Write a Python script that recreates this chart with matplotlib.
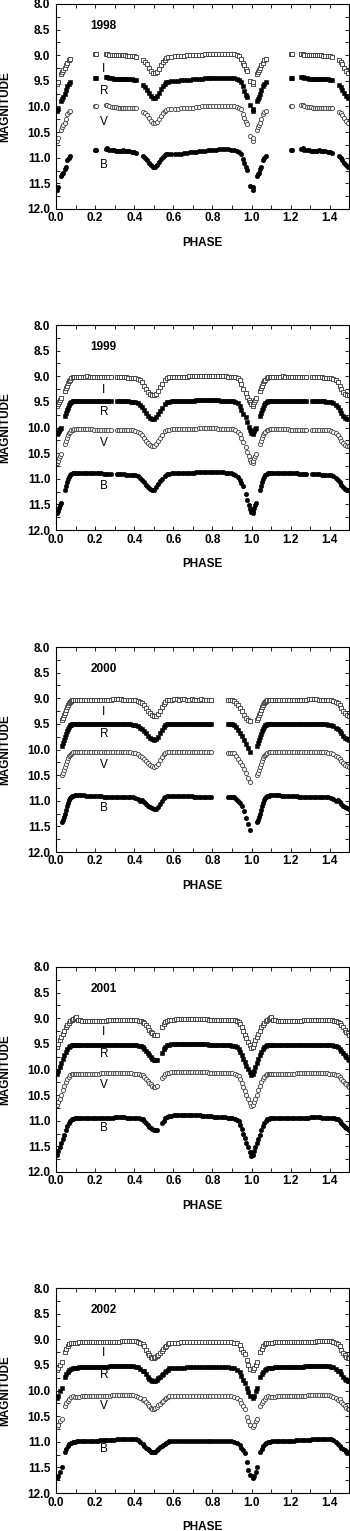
import matplotlib
matplotlib.use('Agg')
import matplotlib.pyplot as plt
import matplotlib.ticker as ticker
import numpy as np

# ---- 1998 ----
ph_1998 = [0.005, 0.01, 0.027, 0.032, 0.037, 0.045, 0.05, 0.058, 0.065, 0.072,
           0.200, 0.207, 0.255, 0.262, 0.27, 0.285, 0.295, 0.305, 0.315, 0.325, 0.335, 0.345, 0.355, 0.365, 0.375, 0.39, 0.40, 0.41,
           0.445, 0.455, 0.465, 0.475, 0.485, 0.495, 0.505, 0.515, 0.525, 0.535, 0.545, 0.555, 0.565, 0.575, 0.59,
           0.61, 0.625, 0.64, 0.655, 0.67, 0.685, 0.70, 0.715, 0.73, 0.745, 0.76, 0.775, 0.79, 0.805, 0.82, 0.835, 0.85, 0.865, 0.88, 0.895, 0.91, 0.925,
           0.935, 0.945, 0.955, 0.962, 0.97, 0.976, 0.993]
i_1998 = [9.57, 9.53, 9.36, 9.32, 9.28, 9.25, 9.20, 9.15, 9.10, 9.07,
          8.98, 8.98, 8.98, 8.98, 8.99, 8.99, 9.00, 9.00, 9.00, 9.00, 9.00, 9.00, 9.00, 9.01, 9.01, 9.01, 9.02, 9.03,
          9.10, 9.13, 9.18, 9.24, 9.30, 9.34, 9.35, 9.32, 9.26, 9.19, 9.13, 9.09, 9.06, 9.04, 9.03,
          9.02, 9.02, 9.01, 9.01, 9.00, 9.00, 9.00, 8.99, 8.99, 8.99, 8.98, 8.98, 8.98, 8.98, 8.98, 8.98, 8.98, 8.98, 8.98, 8.98, 8.98, 8.99,
          9.02, 9.07, 9.15, 9.20, 9.27, 9.31, 9.50]
r_1998 = [10.08, 10.05, 9.90, 9.86, 9.82, 9.75, 9.68, 9.60, 9.56, 9.52,
          9.45, 9.45, 9.43, 9.42, 9.44, 9.45, 9.46, 9.46, 9.46, 9.46, 9.46, 9.46, 9.47, 9.47, 9.47, 9.47, 9.48, 9.48,
          9.58, 9.62, 9.67, 9.73, 9.79, 9.83, 9.83, 9.80, 9.73, 9.66, 9.60, 9.56, 9.53, 9.52, 9.51,
          9.50, 9.50, 9.49, 9.49, 9.48, 9.48, 9.47, 9.47, 9.46, 9.46, 9.45, 9.45, 9.45, 9.44, 9.44, 9.44, 9.44, 9.44, 9.45, 9.45, 9.45, 9.46,
          9.48, 9.52, 9.60, 9.70, 9.78, 9.82, 9.98]
v_1998 = [10.68, 10.62, 10.45, 10.40, 10.37, 10.33, 10.25, 10.15, 10.11, 10.08,
          10.00, 10.00, 9.98, 9.98, 10.00, 10.01, 10.01, 10.01, 10.02, 10.02, 10.02, 10.02, 10.02, 10.02, 10.03, 10.03, 10.03, 10.03,
          10.10, 10.13, 10.17, 10.22, 10.28, 10.32, 10.33, 10.30, 10.24, 10.18, 10.13, 10.09, 10.07, 10.05, 10.04,
          10.04, 10.04, 10.03, 10.03, 10.03, 10.02, 10.02, 10.01, 10.01, 10.00, 10.00, 10.00, 10.00, 9.99, 9.99, 9.99, 9.99, 9.99, 10.00, 10.00, 10.00, 10.01,
          10.02, 10.05, 10.15, 10.22, 10.30, 10.35, 10.58]
b_1998 = [11.62, 11.58, 11.35, 11.32, 11.30, 11.22, 11.18, 11.05, 11.00, 10.96,
          10.85, 10.85, 10.83, 10.81, 10.84, 10.85, 10.85, 10.86, 10.86, 10.86, 10.86, 10.85, 10.86, 10.86, 10.87, 10.88, 10.89, 10.90,
          10.97, 11.00, 11.05, 11.10, 11.15, 11.18, 11.18, 11.15, 11.09, 11.03, 10.98, 10.95, 10.93, 10.93, 10.93,
          10.93, 10.93, 10.92, 10.91, 10.90, 10.89, 10.88, 10.88, 10.87, 10.87, 10.86, 10.85, 10.85, 10.84, 10.84, 10.83, 10.82, 10.82, 10.83, 10.84, 10.84, 10.86,
          10.88, 10.93, 11.02, 11.10, 11.18, 11.24, 11.55]

# ---- 1999 ----
ph_1999 = [0.005, 0.01, 0.015, 0.02, 0.025,
           0.045, 0.05, 0.055, 0.06, 0.065, 0.07, 0.077, 0.085, 0.092,
           0.10, 0.112, 0.124, 0.136, 0.148, 0.16, 0.172, 0.184, 0.196, 0.208, 0.22, 0.232, 0.244, 0.256, 0.268, 0.28,
           0.31, 0.322, 0.334, 0.346, 0.358, 0.37, 0.382, 0.394, 0.406, 0.418, 0.43,
           0.44, 0.45, 0.46, 0.47, 0.48, 0.49, 0.50, 0.51, 0.52, 0.53, 0.54,
           0.56, 0.57,
           0.58, 0.593, 0.605, 0.618, 0.63, 0.643, 0.655, 0.668, 0.68, 0.693, 0.705, 0.718, 0.73, 0.743, 0.755, 0.768, 0.78, 0.793, 0.805, 0.818, 0.83, 0.843, 0.855, 0.868, 0.88, 0.893, 0.905, 0.918, 0.93,
           0.94, 0.948, 0.955, 0.97, 0.978, 0.985, 0.99, 0.995]
i_1999 = [9.58, 9.55, 9.50, 9.46, 9.43,
          9.28, 9.23, 9.18, 9.13, 9.09, 9.07, 9.04, 9.02, 9.01,
          9.01, 9.01, 9.01, 9.01, 9.01, 9.00, 9.01, 9.01, 9.01, 9.01, 9.01, 9.01, 9.01, 9.01, 9.02, 9.02,
          9.02, 9.02, 9.02, 9.02, 9.02, 9.03, 9.03, 9.03, 9.04, 9.05, 9.08,
          9.12, 9.18, 9.25, 9.31, 9.35, 9.37, 9.37, 9.34, 9.28, 9.21, 9.15,
          9.07, 9.04,
          9.02, 9.02, 9.01, 9.01, 9.01, 9.01, 9.01, 9.01, 9.00, 9.00, 9.00, 9.00, 9.00, 9.00, 9.00, 9.00, 9.00, 9.00, 9.00, 9.00, 9.00, 9.00, 9.00, 9.00, 9.01, 9.01, 9.01, 9.02, 9.03,
          9.07, 9.15, 9.24, 9.33, 9.40, 9.46, 9.50, 9.54]
r_1999 = [10.12, 10.10, 10.06, 10.03, 10.00,
          9.78, 9.72, 9.66, 9.61, 9.57, 9.53, 9.50, 9.49, 9.48,
          9.48, 9.48, 9.48, 9.48, 9.48, 9.48, 9.48, 9.48, 9.48, 9.48, 9.48, 9.48, 9.49, 9.49, 9.49, 9.49,
          9.49, 9.49, 9.49, 9.49, 9.49, 9.49, 9.50, 9.50, 9.51, 9.53, 9.56,
          9.60, 9.66, 9.72, 9.78, 9.82, 9.84, 9.84, 9.80, 9.74, 9.68, 9.62,
          9.54, 9.51,
          9.50, 9.49, 9.49, 9.49, 9.49, 9.48, 9.48, 9.48, 9.48, 9.48, 9.48, 9.47, 9.47, 9.47, 9.47, 9.47, 9.47, 9.47, 9.47, 9.47, 9.47, 9.48, 9.48, 9.48, 9.48, 9.48, 9.49, 9.50, 9.52,
          9.58, 9.66, 9.74, 9.80, 9.90, 9.98, 10.05, 10.10]
v_1999 = [10.70, 10.65, 10.60, 10.56, 10.52,
          10.32, 10.26, 10.20, 10.15, 10.11, 10.08, 10.05, 10.04, 10.03,
          10.03, 10.03, 10.03, 10.03, 10.03, 10.03, 10.03, 10.03, 10.04, 10.04, 10.04, 10.04, 10.04, 10.04, 10.04, 10.04,
          10.04, 10.04, 10.04, 10.04, 10.04, 10.05, 10.05, 10.05, 10.06, 10.08, 10.11,
          10.15, 10.20, 10.26, 10.31, 10.35, 10.37, 10.36, 10.32, 10.26, 10.20, 10.14,
          10.07, 10.05,
          10.04, 10.03, 10.03, 10.03, 10.03, 10.03, 10.02, 10.02, 10.02, 10.02, 10.02, 10.02, 10.01, 10.01, 10.00, 10.01, 10.01, 10.01, 10.01, 10.01, 10.02, 10.02, 10.02, 10.02, 10.02, 10.02, 10.03, 10.05, 10.08,
          10.13, 10.20, 10.28, 10.38, 10.48, 10.56, 10.63, 10.68]
b_1999 = [11.67, 11.62, 11.57, 11.52, 11.47,
          11.22, 11.14, 11.07, 11.01, 10.97, 10.93, 10.90, 10.89, 10.88,
          10.88, 10.88, 10.88, 10.88, 10.89, 10.89, 10.88, 10.89, 10.89, 10.89, 10.89, 10.89, 10.90, 10.90, 10.90, 10.90,
          10.91, 10.91, 10.91, 10.91, 10.92, 10.92, 10.92, 10.92, 10.93, 10.95, 10.98,
          11.02, 11.07, 11.12, 11.17, 11.20, 11.22, 11.21, 11.17, 11.11, 11.05, 11.00,
          10.94, 10.91,
          10.90, 10.89, 10.89, 10.89, 10.89, 10.89, 10.88, 10.88, 10.88, 10.88, 10.88, 10.87, 10.87, 10.87, 10.86, 10.86, 10.86, 10.87, 10.87, 10.87, 10.87, 10.87, 10.87, 10.88, 10.88, 10.88, 10.90, 10.93, 10.97,
          11.03, 11.09, 11.15, 11.30, 11.42, 11.52, 11.59, 11.64]

# ---- 2000 ----
ph_2000 = [0.03, 0.035, 0.04, 0.045, 0.05, 0.055, 0.06, 0.065, 0.07, 0.075, 0.08, 0.087, 0.095,
           0.105, 0.118, 0.13, 0.143, 0.155, 0.168, 0.18, 0.193, 0.205, 0.218, 0.23, 0.243, 0.255, 0.268, 0.28, 0.293, 0.305, 0.318, 0.33, 0.343, 0.355, 0.368, 0.38, 0.393, 0.405, 0.418, 0.43,
           0.44, 0.45, 0.46, 0.47, 0.48, 0.49, 0.50, 0.51, 0.52, 0.53, 0.54, 0.55, 0.56, 0.57,
           0.58, 0.593, 0.605, 0.618, 0.63, 0.643, 0.655, 0.668, 0.68, 0.693, 0.705, 0.718, 0.73, 0.743, 0.755, 0.768, 0.78, 0.793,
           0.88, 0.89, 0.90, 0.91, 0.92, 0.93, 0.94, 0.95, 0.96, 0.97, 0.98, 0.99]
i_2000 = [9.42, 9.38, 9.33, 9.28, 9.23, 9.18, 9.14, 9.10, 9.07, 9.05, 9.04, 9.03, 9.03,
          9.03, 9.03, 9.03, 9.03, 9.03, 9.03, 9.03, 9.03, 9.03, 9.03, 9.03, 9.03, 9.03, 9.03, 9.03, 9.02, 9.02, 9.02, 9.02, 9.03, 9.03, 9.03, 9.03, 9.03, 9.04, 9.05, 9.07,
          9.10, 9.14, 9.19, 9.24, 9.29, 9.33, 9.35, 9.35, 9.31, 9.25, 9.18, 9.12, 9.07, 9.04,
          9.03, 9.03, 9.02, 9.02, 9.03, 9.02, 9.02, 9.03, 9.03, 9.02, 9.03, 9.03, 9.03, 9.02, 9.03, 9.03, 9.03, 9.04,
          9.04, 9.04, 9.04, 9.05, 9.09, 9.14, 9.19, 9.25, 9.33, 9.39, 9.43, 9.45]
r_2000 = [9.94, 9.88, 9.82, 9.76, 9.70, 9.64, 9.60, 9.56, 9.53, 9.52, 9.51, 9.51, 9.50,
          9.50, 9.50, 9.50, 9.50, 9.50, 9.50, 9.50, 9.50, 9.50, 9.50, 9.50, 9.50, 9.51, 9.51, 9.51, 9.51, 9.51, 9.51, 9.51, 9.51, 9.51, 9.51, 9.51, 9.52, 9.53, 9.55, 9.58,
          9.60, 9.64, 9.68, 9.73, 9.77, 9.80, 9.81, 9.80, 9.75, 9.68, 9.61, 9.56, 9.53, 9.51,
          9.51, 9.50, 9.50, 9.50, 9.50, 9.50, 9.50, 9.50, 9.50, 9.50, 9.50, 9.50, 9.51, 9.51, 9.51, 9.51, 9.51, 9.51,
          9.51, 9.51, 9.51, 9.52, 9.56, 9.61, 9.67, 9.74, 9.82, 9.90, 9.98, 10.05]
v_2000 = [10.50, 10.45, 10.40, 10.34, 10.28, 10.22, 10.17, 10.13, 10.10, 10.08, 10.06, 10.05, 10.05,
          10.05, 10.05, 10.05, 10.05, 10.05, 10.05, 10.05, 10.05, 10.05, 10.05, 10.05, 10.05, 10.05, 10.05, 10.05, 10.05, 10.05, 10.05, 10.05, 10.05, 10.05, 10.05, 10.05, 10.06, 10.07, 10.09, 10.12,
          10.15, 10.19, 10.23, 10.27, 10.31, 10.33, 10.34, 10.33, 10.28, 10.21, 10.14, 10.09, 10.06, 10.05,
          10.05, 10.04, 10.04, 10.04, 10.04, 10.04, 10.04, 10.05, 10.05, 10.05, 10.05, 10.05, 10.05, 10.05, 10.05, 10.05, 10.05, 10.05,
          10.06, 10.06, 10.06, 10.07, 10.12, 10.18, 10.24, 10.31, 10.38, 10.46, 10.55, 10.63]
b_2000 = [11.41, 11.37, 11.32, 11.25, 11.18, 11.10, 11.04, 10.99, 10.95, 10.92, 10.91, 10.90, 10.89,
          10.89, 10.89, 10.89, 10.89, 10.90, 10.90, 10.90, 10.91, 10.91, 10.91, 10.91, 10.92, 10.92, 10.92, 10.92, 10.92, 10.92, 10.92, 10.92, 10.92, 10.92, 10.92, 10.92, 10.93, 10.95, 10.97, 11.00,
          10.99, 11.03, 11.07, 11.10, 11.13, 11.15, 11.16, 11.16, 11.12, 11.06, 11.00, 10.95, 10.92, 10.91,
          10.91, 10.91, 10.91, 10.91, 10.91, 10.91, 10.91, 10.91, 10.91, 10.91, 10.92, 10.92, 10.92, 10.92, 10.92, 10.92, 10.92, 10.93,
          10.92, 10.92, 10.92, 10.93, 10.96, 11.00, 11.04, 11.10, 11.20, 11.33, 11.46, 11.57]

# ---- 2001 ----
ph_2001 = [0.005, 0.012, 0.02, 0.028, 0.035, 0.042, 0.05, 0.058, 0.065, 0.072, 0.08, 0.088, 0.095, 0.102,
           0.11, 0.122, 0.134, 0.146, 0.158, 0.17, 0.182, 0.194, 0.206, 0.218, 0.23, 0.242, 0.254, 0.266, 0.278, 0.29, 0.302, 0.314, 0.326, 0.338, 0.35, 0.362, 0.374, 0.386, 0.398, 0.41, 0.422, 0.434,
           0.444, 0.452, 0.46, 0.468, 0.476, 0.484, 0.492, 0.50, 0.508, 0.516,
           0.542, 0.55, 0.558,
           0.566, 0.578, 0.59, 0.602, 0.614, 0.626, 0.638, 0.65, 0.662, 0.674, 0.686, 0.698, 0.71, 0.722, 0.734, 0.746, 0.758, 0.77, 0.782, 0.794, 0.806, 0.818, 0.83, 0.842, 0.854, 0.866, 0.878, 0.89, 0.902, 0.914, 0.926,
           0.934, 0.942, 0.95, 0.958, 0.966, 0.974, 0.982, 0.99, 0.997]
i_2001 = [9.56, 9.50, 9.43, 9.36, 9.30, 9.24, 9.18, 9.13, 9.09, 9.06, 9.03, 9.01, 8.99, 8.98,
          9.03, 9.04, 9.05, 9.05, 9.05, 9.05, 9.05, 9.05, 9.05, 9.05, 9.05, 9.05, 9.05, 9.04, 9.04, 9.04, 9.04, 9.04, 9.04, 9.04, 9.04, 9.04, 9.04, 9.04, 9.04, 9.04, 9.05, 9.06,
          9.07, 9.10, 9.14, 9.18, 9.22, 9.26, 9.29, 9.32, 9.33, 9.32,
          9.17, 9.12, 9.08,
          9.05, 9.04, 9.03, 9.03, 9.02, 9.02, 9.02, 9.02, 9.02, 9.02, 9.02, 9.02, 9.02, 9.02, 9.02, 9.02, 9.02, 9.02, 9.03, 9.03, 9.03, 9.03, 9.03, 9.03, 9.03, 9.03, 9.03, 9.03, 9.03, 9.04, 9.05,
          9.07, 9.12, 9.18, 9.25, 9.32, 9.39, 9.46, 9.53, 9.59]
r_2001 = [10.09, 10.03, 9.95, 9.87, 9.79, 9.72, 9.66, 9.61, 9.57, 9.55, 9.53, 9.52, 9.52, 9.52,
          9.53, 9.53, 9.53, 9.53, 9.53, 9.53, 9.52, 9.52, 9.52, 9.52, 9.52, 9.52, 9.52, 9.52, 9.52, 9.52, 9.52, 9.52, 9.52, 9.52, 9.52, 9.53, 9.53, 9.53, 9.53, 9.53, 9.54, 9.55,
          9.56, 9.60, 9.64, 9.68, 9.72, 9.76, 9.79, 9.81, 9.82, 9.81,
          9.67, 9.61, 9.56,
          9.53, 9.52, 9.51, 9.51, 9.51, 9.51, 9.51, 9.51, 9.51, 9.51, 9.51, 9.51, 9.51, 9.51, 9.51, 9.51, 9.51, 9.51, 9.52, 9.52, 9.52, 9.52, 9.52, 9.53, 9.53, 9.53, 9.53, 9.53, 9.54, 9.55, 9.57,
          9.60, 9.66, 9.72, 9.79, 9.86, 9.93, 9.99, 10.05, 10.10]
v_2001 = [10.70, 10.64, 10.57, 10.49, 10.41, 10.33, 10.25, 10.19, 10.14, 10.11, 10.09, 10.08, 10.08, 10.08,
          10.08, 10.08, 10.08, 10.08, 10.08, 10.08, 10.08, 10.08, 10.08, 10.08, 10.07, 10.07, 10.07, 10.07, 10.07, 10.07, 10.07, 10.07, 10.07, 10.07, 10.07, 10.07, 10.07, 10.07, 10.08, 10.08, 10.09, 10.10,
          10.11, 10.14, 10.18, 10.22, 10.26, 10.29, 10.32, 10.34, 10.34, 10.32,
          10.17, 10.12, 10.09,
          10.07, 10.06, 10.05, 10.05, 10.05, 10.05, 10.05, 10.05, 10.05, 10.05, 10.05, 10.05, 10.05, 10.05, 10.05, 10.05, 10.05, 10.05, 10.06, 10.06, 10.06, 10.06, 10.06, 10.06, 10.06, 10.06, 10.06, 10.07, 10.07, 10.08, 10.10,
          10.13, 10.19, 10.26, 10.34, 10.42, 10.50, 10.58, 10.65, 10.71]
b_2001 = [11.67, 11.60, 11.51, 11.43, 11.35, 11.27, 11.19, 11.11, 11.04, 11.00, 10.97, 10.96, 10.95, 10.95,
          10.95, 10.95, 10.95, 10.94, 10.94, 10.94, 10.94, 10.94, 10.94, 10.94, 10.94, 10.94, 10.94, 10.94, 10.94, 10.94, 10.93, 10.93, 10.93, 10.93, 10.93, 10.94, 10.94, 10.94, 10.94, 10.94, 10.95, 10.96,
          10.97, 11.01, 11.05, 11.09, 11.12, 11.15, 11.17, 11.19, 11.19, 11.18,
          11.05, 11.00, 10.95,
          10.92, 10.91, 10.90, 10.89, 10.89, 10.89, 10.89, 10.89, 10.89, 10.89, 10.89, 10.89, 10.89, 10.89, 10.89, 10.90, 10.90, 10.90, 10.91, 10.91, 10.92, 10.92, 10.93, 10.93, 10.93, 10.93, 10.94, 10.94, 10.95, 10.96, 10.98,
          11.01, 11.08, 11.16, 11.25, 11.34, 11.43, 11.52, 11.61, 11.68]

# ---- 2002 ----
ph_2002 = [0.005, 0.012, 0.022, 0.03,
           0.045, 0.052, 0.06, 0.068, 0.076, 0.085,
           0.095, 0.107, 0.119, 0.131, 0.143, 0.155, 0.167, 0.179, 0.191, 0.203, 0.215, 0.227, 0.239, 0.251, 0.263, 0.275, 0.287, 0.299, 0.311, 0.323, 0.335, 0.347, 0.359, 0.371, 0.383, 0.395, 0.407, 0.419, 0.431, 0.443,
           0.452, 0.46, 0.468, 0.476, 0.484, 0.492, 0.50, 0.508, 0.516, 0.524, 0.532, 0.54, 0.548, 0.556, 0.564, 0.572, 0.58,
           0.595, 0.61, 0.625, 0.64, 0.655, 0.67, 0.685, 0.70, 0.715, 0.73, 0.745, 0.76, 0.775, 0.79, 0.805, 0.82, 0.835, 0.85, 0.865, 0.88, 0.895, 0.91, 0.925,
           0.94, 0.948, 0.956, 0.965, 0.975, 0.982, 0.99]
i_2002 = [9.60, 9.56, 9.50, 9.44,
          9.24, 9.19, 9.14, 9.10, 9.08, 9.07,
          9.07, 9.07, 9.06, 9.06, 9.06, 9.06, 9.06, 9.06, 9.06, 9.06, 9.06, 9.06, 9.05, 9.05, 9.05, 9.05, 9.05, 9.05, 9.05, 9.05, 9.04, 9.04, 9.04, 9.04, 9.04, 9.04, 9.04, 9.05, 9.07, 9.10,
          9.14, 9.20, 9.26, 9.31, 9.34, 9.36, 9.36, 9.35, 9.33, 9.30, 9.27, 9.23, 9.19, 9.16, 9.13, 9.10, 9.08,
          9.07, 9.07, 9.07, 9.06, 9.06, 9.06, 9.06, 9.06, 9.06, 9.06, 9.06, 9.06, 9.06, 9.06, 9.06, 9.06, 9.06, 9.06, 9.06, 9.06, 9.06, 9.07, 9.08,
          9.12, 9.18, 9.24, 9.28, 9.40, 9.50, 9.58]
r_2002 = [10.14, 10.10, 10.00, 9.95,
          9.73, 9.68, 9.63, 9.60, 9.58, 9.57,
          9.56, 9.56, 9.55, 9.55, 9.55, 9.55, 9.55, 9.55, 9.55, 9.54, 9.54, 9.54, 9.54, 9.54, 9.54, 9.53, 9.53, 9.53, 9.53, 9.53, 9.53, 9.53, 9.53, 9.53, 9.53, 9.53, 9.54, 9.55, 9.58, 9.62,
          9.62, 9.68, 9.73, 9.77, 9.80, 9.82, 9.82, 9.81, 9.79, 9.76, 9.73, 9.70, 9.67, 9.64, 9.61, 9.59, 9.57,
          9.57, 9.56, 9.56, 9.56, 9.56, 9.55, 9.55, 9.55, 9.55, 9.55, 9.55, 9.55, 9.55, 9.55, 9.55, 9.55, 9.55, 9.55, 9.55, 9.55, 9.56, 9.57, 9.59,
          9.64, 9.72, 9.80, 9.86, 9.95, 10.03, 10.10]
v_2002 = [10.72, 10.68, 10.60, 10.56,
          10.30, 10.25, 10.20, 10.16, 10.13, 10.11,
          10.12, 10.12, 10.12, 10.11, 10.11, 10.11, 10.11, 10.11, 10.11, 10.10, 10.10, 10.10, 10.10, 10.10, 10.10, 10.10, 10.09, 10.09, 10.09, 10.09, 10.09, 10.09, 10.09, 10.09, 10.09, 10.09, 10.10, 10.12, 10.15, 10.19,
          10.17, 10.22, 10.27, 10.31, 10.34, 10.36, 10.36, 10.35, 10.32, 10.29, 10.26, 10.23, 10.20, 10.17, 10.14, 10.12, 10.11,
          10.11, 10.11, 10.11, 10.11, 10.11, 10.11, 10.11, 10.11, 10.10, 10.10, 10.10, 10.10, 10.10, 10.10, 10.11, 10.11, 10.11, 10.11, 10.11, 10.11, 10.11, 10.12, 10.14,
          10.19, 10.25, 10.30, 10.36, 10.52, 10.60, 10.68]
b_2002 = [11.70, 11.66, 11.58, 11.50,
          11.20, 11.14, 11.09, 11.05, 11.02, 11.00,
          11.00, 10.99, 10.99, 10.99, 10.98, 10.98, 10.98, 10.98, 10.98, 10.98, 10.98, 10.97, 10.97, 10.96, 10.96, 10.96, 10.96, 10.96, 10.95, 10.95, 10.94, 10.94, 10.94, 10.94, 10.94, 10.94, 10.95, 10.97, 11.00, 11.04,
          11.08, 11.12, 11.15, 11.17, 11.19, 11.20, 11.20, 11.19, 11.17, 11.14, 11.11, 11.08, 11.06, 11.04, 11.02, 11.00, 10.99,
          10.99, 10.99, 10.99, 10.99, 10.98, 10.98, 10.98, 10.98, 10.98, 10.98, 10.98, 10.98, 10.98, 10.98, 10.98, 10.98, 10.98, 10.98, 10.98, 10.98, 10.99, 11.00, 11.03,
          11.07, 11.12, 11.17, 11.22, 11.40, 11.55, 11.64]

years = ['1998', '1999', '2000', '2001', '2002']
phases = [ph_1998, ph_1999, ph_2000, ph_2001, ph_2002]
mags_i = [i_1998, i_1999, i_2000, i_2001, i_2002]
mags_r = [r_1998, r_1999, r_2000, r_2001, r_2002]
mags_v = [v_1998, v_1999, v_2000, v_2001, v_2002]
mags_b = [b_1998, b_1999, b_2000, b_2001, b_2002]
band_names = ['I', 'R', 'V', 'B']
band_label_y = [9.27, 9.70, 10.30, 11.15]

plt.rcParams['font.family'] = ['Liberation Sans', 'DejaVu Sans']
plt.rcParams['font.size'] = 8.5

# marker style per band: I open squares, R filled squares, V open circles, B filled circles
styles = [dict(marker='s', ms=3.0, mfc='white', mec='0.2', mew=0.6),
          dict(marker='s', ms=3.0, mfc='black', mec='black', mew=0.4),
          dict(marker='o', ms=3.0, mfc='white', mec='0.25', mew=0.6),
          dict(marker='o', ms=3.2, mfc='black', mec='black', mew=0.4)]

fig = plt.figure(figsize=(3.5, 15.31), dpi=100)
bottoms = [0.8635, 0.6538, 0.4435, 0.2345, 0.0248]

for k in range(5):
    ax = fig.add_axes([0.16, bottoms[k], 0.838, 0.1339])
    ph = np.array(phases[k])
    rep = ph <= 0.5
    for j, m in enumerate([mags_i[k], mags_r[k], mags_v[k], mags_b[k]]):
        m = np.array(m)
        ax.plot(ph, m, ls='none', **styles[j])
        ax.plot(ph[rep] + 1, m[rep], ls='none', **styles[j])
        ax.text(0.245, band_label_y[j], band_names[j], ha='center', va='center', fontsize=8.5)
    ax.text(0.242, 8.43, years[k], ha='center', va='center', fontsize=8.5, fontweight='bold')

    ax.set_xlim(0, 1.5)
    ax.set_ylim(12, 8)
    ax.xaxis.set_major_locator(ticker.MultipleLocator(0.2))
    ax.xaxis.set_minor_locator(ticker.MultipleLocator(0.1))
    ax.yaxis.set_major_locator(ticker.MultipleLocator(0.5))
    ax.yaxis.set_minor_locator(ticker.MultipleLocator(0.25))
    ax.xaxis.set_major_formatter(ticker.FormatStrFormatter('%.1f'))
    ax.yaxis.set_major_formatter(ticker.FormatStrFormatter('%.1f'))
    ax.tick_params(which='both', direction='in', top=True, right=True, width=0.6, length=3)
    ax.tick_params(axis='x', which='major', pad=2.5)
    ax.tick_params(axis='y', which='major', pad=4)
    for lab in ax.get_xticklabels() + ax.get_yticklabels():
        lab.set_fontweight('bold')
    for sp in ax.spines.values():
        sp.set_linewidth(0.8)

    ax.set_xlabel('PHASE', fontweight='bold')
    ax.xaxis.set_label_coords(0.5, -0.166)
    ax.xaxis.label.set_va('center')
    ax.set_ylabel('MAGNITUDE', fontweight='bold')
    ax.yaxis.set_label_coords(-0.174, 0.5)
    ax.yaxis.label.set_va('center')

plt.savefig('out.png', dpi=100)
print('done')
